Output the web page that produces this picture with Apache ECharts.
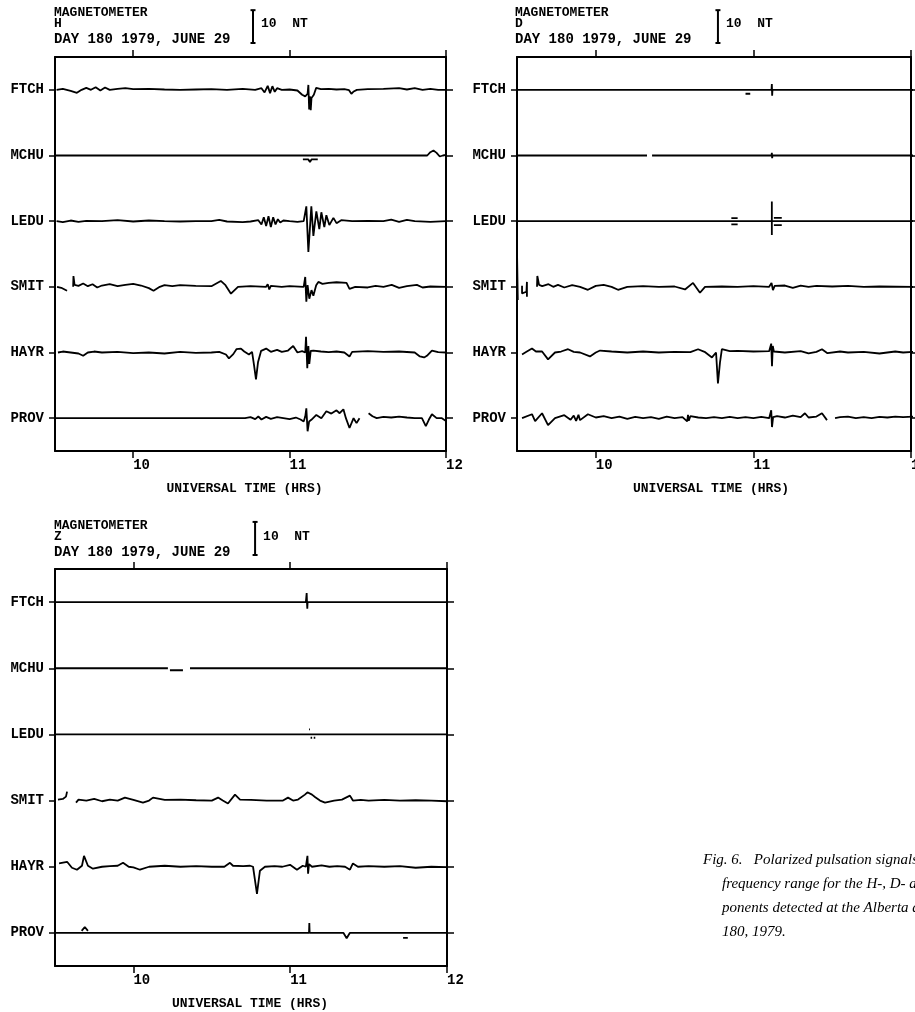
<!DOCTYPE html>
<html><head><meta charset="utf-8">
<script src="https://cdn.jsdelivr.net/npm/echarts@6/dist/echarts.min.js"></script>
<style>html,body{margin:0;padding:0;background:#fff}#c{width:915px;height:1012px}</style>
</head><body><div id="c"></div>
<script>
// ---------------- data ----------------
const stations = ['FTCH', 'MCHU', 'LEDU', 'SMIT', 'HAYR', 'PROV'];
const timeTicks = [10, 11, 12];
const timeLabels = ['10', '11', '12'];
const timeRange = [9.5, 12];
const scaleBarNT = 10;
const GAP = ['-', '-'];

// H component: [UT hours, nT]
const H_FTCH = [[9.51,0],[9.55,0.3],[9.6,-0.3],[9.64,-0.9],[9.67,0],[9.7,0.6],[9.73,0],[9.76,0.8],[9.79,-0.2],[9.82,0.7],[9.85,0],[9.9,0.3],[9.95,0.5],[10.0,0.2],[10.1,0.3],[10.2,0.1],[10.3,0],[10.4,0.1],[10.5,0.2],[10.6,0],[10.7,0.3],[10.78,0],[10.82,0.5],[10.84,-0.8],[10.86,1.2],[10.875,-1],[10.89,1.1],[10.905,-0.6],[10.92,0.5],[10.95,0],[11.0,0.1],[11.05,-0.2],[11.08,-1.5],[11.1,-2],[11.115,-1.2],[11.12,1.5],[11.125,-6],[11.13,-2],[11.135,-6.2],[11.14,-2.5],[11.155,-1.5],[11.17,0.6],[11.2,0.2],[11.25,0.3],[11.3,0.1],[11.35,0.2],[11.38,-0.1],[11.395,-1.2],[11.41,-0.5],[11.43,0],[11.5,0.2],[11.6,0.3],[11.7,0.5],[11.75,0.1],[11.8,0.5],[11.85,0],[11.9,0.3],[11.95,0],[12.0,0]];
const H_MCHU = [[9.5,0],[11.88,0],[11.9,1.0],[11.92,1.5],[11.94,0.8],[11.96,-0.3],[11.98,0],[12.0,0.2],GAP,[11.085,-1.2],[11.12,-1.2],[11.13,-2],[11.14,-1.2],[11.18,-1.2]];
const H_LEDU = [[9.51,0],[9.55,-0.3],[9.6,0.2],[9.65,-0.2],[9.7,0.1],[9.8,0],[9.9,0.3],[10.0,-0.1],[10.1,0.2],[10.2,0],[10.3,-0.1],[10.4,0],[10.5,0],[10.55,0.4],[10.6,-0.1],[10.7,-0.3],[10.75,-0.1],[10.8,0.3],[10.82,-1],[10.835,1.2],[10.85,-1.5],[10.865,1.5],[10.88,-1.8],[10.895,1.2],[10.91,-1],[10.925,0.6],[10.94,-0.4],[10.96,0.2],[11.0,0],[11.05,-0.2],[11.09,0],[11.107,4.5],[11.12,-9.4],[11.139,4.5],[11.152,-4.5],[11.171,3],[11.19,-2.4],[11.203,2.7],[11.222,-1.8],[11.235,1.8],[11.254,-1.2],[11.28,1],[11.3,-0.6],[11.33,0.3],[11.4,0],[11.5,0.1],[11.6,0],[11.65,0.5],[11.7,-0.2],[11.75,0.4],[11.8,0],[11.9,-0.2],[12.0,0]];
const H_SMIT = [[9.513,0],[9.54,-0.3],[9.577,-1.2],GAP,[9.616,0],[9.618,3.3],[9.625,0.6],[9.65,0.3],[9.68,1],[9.71,0.2],[9.74,0.8],[9.77,-0.2],[9.8,0.4],[9.85,0.8],[9.9,0.2],[9.95,0.6],[10.0,0.9],[10.05,0.4],[10.1,-0.4],[10.13,-1.2],[10.17,0],[10.2,0.5],[10.25,0.2],[10.3,0.5],[10.4,0.3],[10.5,0.2],[10.56,1.8],[10.59,0.5],[10.625,-2.1],[10.67,0],[10.75,0.2],[10.85,0],[10.86,0.8],[10.87,-0.8],[10.88,0.3],[10.95,0],[11.0,0.2],[11.09,0],[11.1,3],[11.107,-4.5],[11.115,0.5],[11.126,-3.6],[11.14,-1],[11.152,-2.7],[11.17,0.5],[11.184,1.5],[11.21,0.9],[11.25,1.2],[11.3,1.4],[11.364,1.2],[11.383,-0.6],[11.42,0],[11.5,-0.2],[11.55,0.3],[11.6,0],[11.653,0.6],[11.7,-0.3],[11.75,0.2],[11.814,0.6],[11.85,-0.2],[11.9,0.1],[12.0,0]];
const H_HAYR = [[9.519,0],[9.55,0.3],[9.6,0],[9.65,-0.3],[9.68,-1],[9.71,0],[9.75,0.3],[9.8,0],[9.9,0.2],[10.0,-0.2],[10.1,0],[10.2,-0.3],[10.3,0.2],[10.4,-0.1],[10.5,0],[10.55,0.2],[10.593,-0.6],[10.612,-1.8],[10.64,-0.5],[10.66,1],[10.689,1.2],[10.71,0.3],[10.74,-0.6],[10.76,0.2],[10.773,-4],[10.785,-8.2],[10.798,-3],[10.818,0.5],[10.85,1.2],[10.88,0.2],[10.92,0.8],[10.95,0.2],[10.99,0.6],[11.023,2],[11.05,0],[11.08,0.4],[11.1,0],[11.105,4.8],[11.11,-1],[11.113,-4.8],[11.12,2],[11.126,-3.5],[11.135,0.5],[11.152,0.6],[11.2,0.3],[11.25,0.1],[11.3,0.3],[11.35,0],[11.383,-1.2],[11.4,0.2],[11.5,0.4],[11.6,0.2],[11.7,0.3],[11.8,0],[11.833,-1.2],[11.86,-1.5],[11.878,-1],[11.91,0.6],[11.95,0.1],[12.0,0]];
const H_PROV = [[9.5,0],[10.702,0],[10.715,0],[10.75,0.3],[10.78,-0.3],[10.8,0.5],[10.82,-0.4],[10.85,0.4],[10.88,-0.2],[10.92,0.3],[10.96,0],[11.0,-0.3],[11.04,0.2],[11.07,-0.4],[11.09,-1],[11.1,0.5],[11.107,3],[11.115,-4],[11.125,-1],[11.139,-0.5],[11.171,1],[11.203,0],[11.235,2.1],[11.267,1.4],[11.3,2.4],[11.32,1.5],[11.344,2.7],[11.36,0],[11.383,-3],[11.409,0],[11.428,-1.5],[11.447,0],GAP,[11.505,1.5],[11.53,0.6],[11.557,0],[11.6,0.4],[11.65,0.2],[11.7,0.5],[11.75,0.2],[11.8,0],[11.846,0],[11.871,-2.4],[11.89,-0.5],[11.91,1.2],[11.94,0],[11.974,0],[12.0,-0.9]];

// D component
const D_FTCH = [[9.5,0],[11.115,0],[11.117,1.8],[11.119,-1.8],[11.121,0],[12.02,0],GAP,[10.95,-1.2],[10.98,-1.2]];
const D_MCHU = [[9.5,0],[10.325,0],GAP,[10.357,0],[11.115,0],[11.117,0.8],[11.119,-0.8],[11.121,0],[12.02,0]];
const D_LEDU = [[9.5,0],[12.02,0],GAP,[11.117,6],[11.117,-4.2],GAP,[10.86,0.9],[10.9,0.9],GAP,[10.86,-1],[10.9,-1],GAP,[11.13,1],[11.18,1],GAP,[11.13,-1.2],[11.18,-1.2]];
const D_SMIT = [[9.5,11],[9.505,-4],GAP,[9.532,0.3],[9.532,-2],[9.535,-1.5],[9.56,-1.5],[9.563,1.5],[9.563,-3],GAP,[9.627,0],[9.629,3.3],[9.64,0.6],[9.66,0.2],[9.7,0.8],[9.73,0],[9.76,0.6],[9.8,-0.2],[9.85,0.5],[9.9,0],[9.95,-0.9],[10.0,0.3],[10.05,0.6],[10.1,0],[10.141,-0.9],[10.2,0],[10.3,0.2],[10.4,0],[10.5,0.1],[10.566,-0.8],[10.617,1.2],[10.661,-1.8],[10.693,0],[10.8,0.1],[10.9,0],[11.0,0.2],[11.1,0],[11.115,1.2],[11.124,-1],[11.135,0.3],[11.2,0.4],[11.25,-0.3],[11.3,0.4],[11.35,0],[11.4,0.3],[11.5,0.1],[11.6,0.3],[11.7,0],[11.8,0.1],[12.02,0]];
const D_HAYR = [[9.532,-0.6],[9.56,0.2],[9.595,1.2],[9.62,0.3],[9.659,0.3],[9.697,-2.1],[9.741,0],[9.78,0.3],[9.824,1],[9.86,0.2],[9.9,0],[9.963,-1.2],[10.0,0],[10.027,0.6],[10.1,0.3],[10.2,0],[10.3,0.3],[10.4,0],[10.5,0.2],[10.6,0.1],[10.649,1],[10.69,0.2],[10.737,-1.5],[10.763,0],[10.775,-9.4],[10.788,-3],[10.8,1],[10.85,0.4],[10.9,0.5],[11.0,0.3],[11.1,0.4],[11.113,2.7],[11.118,-4.2],[11.123,2],[11.13,0.3],[11.2,0],[11.3,0.4],[11.35,-0.3],[11.4,0.2],[11.435,1],[11.47,-0.2],[11.55,0.3],[11.6,0],[11.7,0.2],[11.8,-0.3],[11.9,0.3],[11.95,0],[12.02,0.2]];
const D_PROV = [[9.532,0],[9.595,1.2],[9.615,-0.9],[9.659,1.5],[9.697,-2.1],[9.741,0],[9.8,0.9],[9.84,-0.5],[9.86,0.8],[9.875,-0.8],[9.89,1],[9.9,-0.6],[9.95,1.2],[10.0,0.2],[10.05,0.6],[10.1,0],[10.15,0.5],[10.2,-0.2],[10.25,0.4],[10.3,0],[10.35,0.3],[10.4,-0.2],[10.45,0.5],[10.5,0],[10.55,0.3],[10.58,-1],[10.585,1],[10.59,-0.8],[10.6,0.6],[10.65,0.2],[10.7,0],[10.75,0.3],[10.8,0],[10.85,0.4],[10.9,0],[10.95,0.3],[11.0,0],[11.05,0.4],[11.1,0],[11.113,2.4],[11.118,-2.7],[11.125,0.3],[11.15,0.6],[11.2,0.2],[11.25,0.8],[11.3,0.3],[11.327,1.5],[11.35,0.2],[11.4,0.5],[11.435,1.5],[11.467,-0.6],GAP,[11.518,0],[11.55,0.3],[11.6,0.5],[11.65,0],[11.7,0.3],[11.75,0],[11.8,0.4],[11.85,0.2],[11.9,0.5],[11.95,0.3],[12.02,0.5]];

// Z component
const Z_FTCH = [[9.5,0],[11.1,0],[11.105,2.7],[11.107,0],[11.109,-2],[11.111,0],[12.0,0]];
const Z_MCHU = [[9.5,0],[10.22,0],GAP,[10.233,-0.6],[10.316,-0.6],GAP,[10.361,0],[12.0,0]];
const Z_LEDU = [[9.5,0],[12.0,0],GAP,[11.12,1.5],[11.126,1.5],GAP,[11.13,-1],[11.14,-1],GAP,[11.15,-1],[11.16,-1]];
const Z_SMIT = [[9.519,0.3],[9.55,0.5],[9.57,1.2],[9.577,2.7],GAP,[9.634,-0.6],[9.65,0.3],[9.7,0],[9.75,0.5],[9.8,-0.2],[9.85,0.3],[9.9,0],[9.946,0.9],[10.0,0.2],[10.061,-0.6],[10.1,0],[10.125,0.9],[10.2,0.2],[10.3,0.3],[10.4,0.1],[10.5,0],[10.54,0.9],[10.57,0],[10.603,-0.9],[10.648,1.8],[10.68,0.3],[10.75,0.2],[10.85,0],[10.954,0],[10.986,0.9],[11.018,0],[11.05,0.3],[11.094,1.8],[11.11,2.5],[11.139,1.8],[11.16,1],[11.19,0],[11.222,-0.6],[11.28,0],[11.33,0.3],[11.381,1.5],[11.4,0],[11.45,0.2],[11.5,0],[11.6,0.2],[11.7,0],[11.8,0.1],[11.9,0],[12.0,-0.2]];
const Z_HAYR = [[9.526,1],[9.577,1.5],[9.608,-0.3],[9.64,-0.9],[9.672,0.3],[9.685,3.3],[9.71,0.3],[9.742,-0.6],[9.8,0],[9.85,0.2],[9.9,0.3],[9.934,1.2],[9.97,0],[10.0,-0.2],[10.042,-0.9],[10.1,0],[10.2,0.3],[10.3,0],[10.4,0.2],[10.5,0],[10.58,0],[10.616,1.2],[10.635,0.3],[10.7,0.2],[10.744,0.3],[10.763,0],[10.788,-8.2],[10.807,-1.2],[10.839,0],[10.9,0.2],[10.95,0],[10.999,0.6],[11.043,-0.9],[11.08,0.3],[11.1,0],[11.11,3.3],[11.114,-2.1],[11.12,0.8],[11.139,0],[11.2,0.4],[11.25,0],[11.3,0.2],[11.35,0],[11.381,-0.9],[11.4,1],[11.432,0],[11.5,0.2],[11.6,0],[11.7,0.2],[11.8,-0.3],[11.9,0],[12.0,-0.1]];
const Z_PROV = [[9.5,0],[11.12,0],[11.122,3],[11.124,0],[11.34,0],[11.36,-1.6],[11.38,0],[12.0,0],GAP,[9.67,0.6],[9.69,1.8],[9.71,0.6],GAP,[11.72,-1.5],[11.75,-1.5]];

const captionLines = [
  'Fig. 6.   Polarized pulsation signals in the',
  'frequency range for the H-, D- and Z- com-',
  'ponents detected at the Alberta array on day',
  '180, 1979.'
];

// ---------------- layout ----------------
const MONO = '"Liberation Mono", "DejaVu Sans Mono", monospace';
const NT_PER_STATION = 20;
const yMin = -NT_PER_STATION * (stations.length + 0.5), yMax = -NT_PER_STATION * 0.5;
const stationBase = stations.map((s, i) => -NT_PER_STATION * (i + 1));

const panels = [
  { comp: 'H', traces: [H_FTCH, H_MCHU, H_LEDU, H_SMIT, H_HAYR, H_PROV],
    grid: { left: 55, top: 57, width: 391, height: 394 }, hx: 54, hy: 0, barT: 10.766, namePad: 12 },
  { comp: 'D', traces: [D_FTCH, D_MCHU, D_LEDU, D_SMIT, D_HAYR, D_PROV],
    grid: { left: 517, top: 57, width: 394, height: 394 }, hx: 515, hy: 0, barT: 10.775, namePad: 6 },
  { comp: 'Z', traces: [Z_FTCH, Z_MCHU, Z_LEDU, Z_SMIT, Z_HAYR, Z_PROV],
    grid: { left: 55, top: 569, width: 392, height: 397 }, hx: 54, hy: 513, barT: 10.776, namePad: 2 }
];

const txt = (extra) => Object.assign({ color: '#000', fontFamily: MONO, fontSize: 14, fontWeight: 'bold' }, extra);

const grid = [], xAxis = [], yAxis = [], series = [], graphic = [];
panels.forEach((p, pi) => {
  grid.push(Object.assign({ containLabel: false, outerBoundsMode: 'none' }, p.grid));
  const line = { show: true, onZero: false, lineStyle: { color: '#000', width: 2 } };
  xAxis.push({ gridIndex: pi, type: 'value', min: timeRange[0], max: timeRange[1], position: 'bottom',
    axisLine: line, splitLine: { show: false },
    axisTick: { show: true, customValues: timeTicks, length: 7, lineStyle: { color: '#000', width: 1.5 } },
    axisLabel: { show: true, customValues: timeTicks, align: 'left', margin: 7,
      formatter: v => timeLabels[timeTicks.indexOf(Math.round(v))] || '', ...txt({}) },
    name: 'UNIVERSAL TIME (HRS)', nameLocation: 'middle', nameGap: 31,
    nameTextStyle: txt({ fontSize: 13, padding: [0, p.namePad, 0, 0] }) });
  xAxis.push({ gridIndex: pi, type: 'value', min: timeRange[0], max: timeRange[1], position: 'top',
    axisLine: line, splitLine: { show: false },
    axisTick: { show: true, customValues: timeTicks, length: 7, lineStyle: { color: '#000', width: 1.5 } },
    axisLabel: { show: false } });
  yAxis.push({ gridIndex: pi, type: 'value', min: yMin, max: yMax, position: 'left',
    axisLine: line, splitLine: { show: false },
    axisTick: { show: true, customValues: stationBase, length: 6, lineStyle: { color: '#000', width: 1.5 } },
    axisLabel: { show: true, customValues: stationBase, margin: 11,
      formatter: v => stations[Math.round(-v / NT_PER_STATION) - 1] || '', ...txt({}) } });
  yAxis.push({ gridIndex: pi, type: 'value', min: yMin, max: yMax, position: 'right',
    axisLine: line, splitLine: { show: false },
    axisTick: { show: true, customValues: stationBase, length: 7, lineStyle: { color: '#000', width: 1.5 } },
    axisLabel: { show: false } });

  p.traces.forEach((tr, si) => {
    series.push({ type: 'line', xAxisIndex: pi * 2, yAxisIndex: pi * 2, clip: false,
      showSymbol: false, symbol: 'none', animation: false, silent: true, connectNulls: false,
      lineStyle: { color: '#000', width: 1.8 },
      data: tr.map(pt => pt[0] === '-' ? ['-', '-'] : [pt[0], stationBase[si] + pt[1]]) });
  });

  // 10 nT scale bar above the frame (drawn in data units of the panel's y axis)
  const nTperPx = (yMax - yMin) / p.grid.height;
  const barBottom = yMax + 14 * nTperPx;
  series.push({ type: 'line', xAxisIndex: pi * 2, yAxisIndex: pi * 2, clip: false, animation: false, silent: true,
    symbol: 'rect', symbolSize: [5, 2], showSymbol: true, itemStyle: { color: '#000' },
    lineStyle: { color: '#000', width: 2 },
    data: [[p.barT, barBottom], [p.barT, barBottom + scaleBarNT]] });

  // header text
  const barPx = p.grid.left + (p.barT - timeRange[0]) / (timeRange[1] - timeRange[0]) * p.grid.width;
  graphic.push({ type: 'text', left: p.hx, top: p.hy + 6, style: { text: 'MAGNETOMETER', fill: '#000', font: 'bold 13px ' + MONO } });
  graphic.push({ type: 'text', left: p.hx, top: p.hy + 17, style: { text: p.comp, fill: '#000', font: 'bold 13px ' + MONO } });
  graphic.push({ type: 'text', left: p.hx, top: p.hy + 32, style: { text: 'DAY 180 1979, JUNE 29', fill: '#000', font: 'bold 14px ' + MONO } });
  graphic.push({ type: 'text', left: barPx + 8, top: p.hy + 17, style: { text: '10  NT', fill: '#000', font: 'bold 13px ' + MONO } });
});

captionLines.forEach((t, i) => {
  graphic.push({ type: 'text', left: i === 0 ? 703 : 722, top: 853 + i * 24,
    style: { text: t, fill: '#000', font: 'italic 15px "Liberation Serif", "DejaVu Serif", serif' } });
});

const chart = echarts.init(document.getElementById('c'), null, { renderer: 'canvas' });
chart.setOption({ backgroundColor: '#fff', animation: false, grid, xAxis, yAxis, series, graphic });
</script></body></html>
